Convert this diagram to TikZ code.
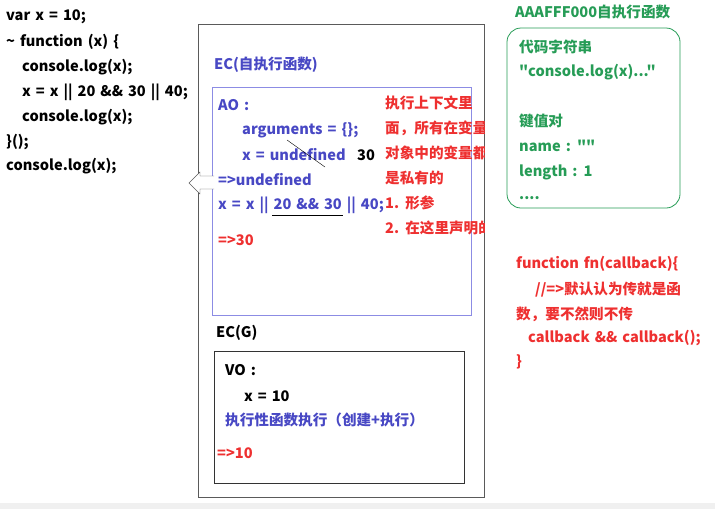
\documentclass[tikz,border=0pt]{standalone}
\usepackage{fontspec}
\setmainfont{Noto Sans CJK SC}[Ligatures=TeXOff,WordSpace=1.5]
\definecolor{ecblue}{RGB}{72,72,196}
\definecolor{ecred}{RGB}{238,48,48}
\definecolor{ecgreen}{RGB}{38,156,86}
\definecolor{boxgray}{RGB}{90,90,90}
\definecolor{aoframe}{RGB}{140,140,228}

\begin{document}
\begin{tikzpicture}[x=1pt,y=-1pt,
  txt/.style={anchor=west,inner sep=0pt,font=\bfseries\fontsize{14.6}{16}\selectfont},
  aotxt/.style={txt,text=ecblue},
  redtxt/.style={txt,text=ecred},
  greentxt/.style={txt,text=ecgreen}]
  \useasboundingbox (0,0) rectangle (715,509);
  \fill[gray!12] (0,503) rectangle (715,509);
  % left code
  \node[txt] (c1) at (6,17) {var x = 10;};
  \node[txt] (c2) at (6,42) {\textasciitilde{} function (x) \{};
  \node[txt] (c3) at (22,67) {console.log(x);};
  \node[txt] (c4) at (22,92) {x = x || 20 \&\& 30 || 40;};
  \node[txt] (c5) at (22,117) {console.log(x);};
  \node[txt] (c6) at (6,142) {\}();};
  \node[txt] (c7) at (6,166) {console.log(x);};
  % stack boxes
  \draw[boxgray,thick] (198,24) rectangle (484,497);
  \draw[aoframe,thick] (212,87) rectangle (471,315);
  \draw[black!80,thick] (214,351) rectangle (464,483);
  \node[aotxt] (ec1) at (214,65) {EC(自执行函数)};
  \node[aotxt] (ao) at (218,105) {AO :};
  \node[aotxt] (args) at (242,130) {arguments = \{\};};
  \node[aotxt] (xu) at (242,155) {x = undefined};
  \node[txt] (thirty) at (357,155) {30};
  \node[aotxt] (r1) at (218,180) {=>undefined};
  \node[aotxt] (xx) at (218,205) {x = x || 20 \&\& 30 || 40;};
  \node[redtxt] (r2) at (218,240) {=>30};
  \draw (287,140) -- (325,167);
  \draw (272,215) -- (343,215);
  % note, cut off by the outer frame
  \begin{scope}
    \clip (198,24) rectangle (484,497);
    \node[redtxt] (n1) at (385,103) {执行上下文里};
    \node[redtxt] (n2) at (385,128) {面，所有在变量};
    \node[redtxt] (n3) at (385,153) {对象中的变量都};
    \node[redtxt] (n4) at (385,178) {是私有的};
    \node[redtxt] (n5) at (385,203) {1. 形参};
    \node[redtxt] (n6) at (385,228) {2. 在这里声明的};
  \end{scope}
  % hollow arrow
  \draw[boxgray,fill=white] (214,176) -- (200,176) -- (200,172) -- (189,183)
    -- (200,194) -- (200,189) -- (214,189);
  % global
  \node[txt] (ecg) at (216,333) {EC(G)};
  \node[txt] (vo) at (225,370) {VO :};
  \node[txt] (x10) at (244,396) {x = 10};
  \node[aotxt] (exec) at (225,420) {执行性函数执行（创建+执行）};
  \node[redtxt] (r3) at (217,453) {=>10};
  % heap
  \node[greentxt] (addr) at (515,12) {AAAFFF000自执行函数};
  \draw[ecgreen,thick,rounded corners=14pt] (507,28) rectangle (680,208);
  \node[greentxt] (h1) at (519,47) {代码字符串};
  \node[greentxt] (h2) at (519,72) {"console.log(x)..."};
  \node[greentxt] (h3) at (519,121) {键值对};
  \node[greentxt] (h4) at (519,146) {name : ""};
  \node[greentxt] (h5) at (519,172) {length : 1};
  \node[greentxt] (h6) at (519,198) {....};
  % callback
  \node[redtxt] (f1) at (516,264) {function fn(callback)\{};
  \node[redtxt] (f2) at (535,290) {//=>默认认为传就是函};
  \node[redtxt] (f3) at (516,314) {数，要不然则不传};
  \node[redtxt] (f4) at (528,338) {callback \&\& callback();};
  \node[redtxt] (f5) at (516,362) {\}};
\end{tikzpicture}
\end{document}
